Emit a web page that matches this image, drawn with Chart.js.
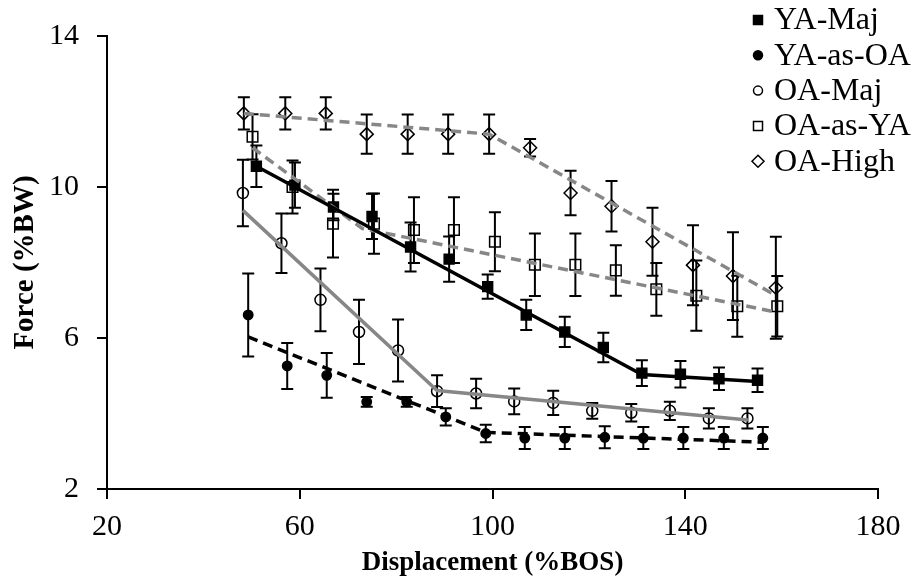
<!DOCTYPE html>
<html>
<head>
<meta charset="utf-8">
<script src="https://cdn.jsdelivr.net/npm/chart.js@4.4.1/dist/chart.umd.min.js"></script>
<style>
html, body { margin: 0; padding: 0; background: #fff; }
</style>
</head>
<body>
<canvas id="chart" width="917" height="582"></canvas>
<script>
// values (displacement %BOS, force %BW, error bar half-length)
const seriesNames = ["YA-Maj", "YA-as-OA", "OA-Maj", "OA-as-YA", "OA-High"]

const yaMajX = [51, 59, 67, 75, 83, 91, 99, 107, 115, 123, 131, 139, 147, 155]
const yaMajY = [10.55, 10.05, 9.47, 9.22, 8.41, 8.09, 7.36, 6.61, 6.16, 5.75, 5.07, 5.04, 4.92, 4.88]
const yaMajErr = [0.55, 0.6, 0.35, 0.6, 0.65, 0.6, 0.32, 0.4, 0.4, 0.39, 0.34, 0.35, 0.3, 0.31]

const yaAsOaX = [49.3, 57.4, 65.6, 73.9, 82.2, 90.3, 98.6, 106.7, 115, 123.3, 131.3, 139.6, 148, 156.1]
const yaAsOaY = [6.61, 5.26, 5.01, 4.31, 4.31, 3.91, 3.47, 3.35, 3.35, 3.37, 3.35, 3.35, 3.35, 3.35]
const yaAsOaErr = [1.1, 0.61, 0.59, 0.13, 0.13, 0.23, 0.23, 0.29, 0.29, 0.29, 0.29, 0.29, 0.29, 0.29]

const oaMajX = [48.2, 56.2, 64.3, 72.3, 80.4, 88.5, 96.6, 104.5, 112.6, 120.7, 128.8, 136.8, 144.9, 152.9]
const oaMajY = [9.84, 8.51, 7.01, 6.16, 5.67, 4.59, 4.53, 4.32, 4.28, 4.07, 4.02, 4.07, 3.87, 3.87]
const oaMajErr = [0.88, 0.79, 0.83, 0.85, 0.82, 0.42, 0.39, 0.34, 0.32, 0.21, 0.23, 0.24, 0.27, 0.27]

const oaAsYaX = [50.2, 58.5, 66.9, 75.4, 83.7, 92, 100.5, 108.8, 117.2, 125.6, 134, 142.3, 150.8, 159.1]
const oaAsYaY = [11.33, 10.0, 9.03, 9.03, 8.86, 8.86, 8.55, 7.94, 7.94, 7.79, 7.29, 7.12, 6.84, 6.84]
const oaAsYaErr = [0.6, 0.7, 0.9, 0.8, 0.87, 0.87, 0.78, 0.83, 0.83, 0.67, 0.7, 0.93, 0.81, 0.8]

const oaHighX = [48.4, 57, 65.4, 73.9, 82.4, 90.8, 99.3, 107.8, 116.2, 124.7, 133.2, 141.6, 149.9, 158.8]
const oaHighY = [11.95, 11.95, 11.95, 11.4, 11.4, 11.4, 11.4, 11.04, 9.84, 9.49, 8.55, 7.93, 7.64, 7.33]
const oaHighErr = [0.43, 0.43, 0.43, 0.52, 0.52, 0.52, 0.52, 0.23, 0.59, 0.67, 0.9, 1.06, 1.16, 1.35]

// piecewise fitted lines
const yaMajFitX = [51, 131, 155]
const yaMajFitY = [10.55, 5.03, 4.85]
const yaAsOaFitX = [49.3, 98.6, 156.1]
const yaAsOaFitY = [6.03, 3.5, 3.24]
const oaMajFitX = [48.2, 88.5, 153]
const oaMajFitY = [9.38, 4.61, 3.83]
const oaAsYaFitX = [50.2, 73, 159.1]
const oaAsYaFitY = [11.04, 8.9, 6.68]
const oaHighFitX = [48.4, 99.3, 158.9]
const oaHighFitY = [11.95, 11.4, 7.12]

const xTicks = [20, 60, 100, 140, 180]
const yTicks = [2, 6, 10, 14]

const GRAY = "#878787"
const FONT = "'Liberation Serif', 'Times New Roman', serif"

const pts = (xs, ys) => xs.map((x, i) => ({ x: x, y: ys[i] }))

function markerSet(label, xs, ys, errs, style, filled, radius) {
    return {
        label: label,
        data: pts(xs, ys),
        errors: errs,
        pointStyle: style,
        pointRadius: radius,
        pointHoverRadius: radius,
        pointBorderWidth: 1.5,
        pointBorderColor: "#000",
        pointBackgroundColor: filled ? "#000" : "rgba(0,0,0,0)",
        legendStyle: style,
        legendFilled: filled,
        showLine: false,
        order: 2
    }
}

function fitSet(xs, ys, color, dash) {
    return {
        label: "",
        data: pts(xs, ys),
        showLine: true,
        borderColor: color,
        borderWidth: 3.5,
        borderDash: dash,
        pointRadius: 0,
        fill: false,
        isFit: true,
        order: 1
    }
}

const errorBars = {
    id: "errorBars",
    beforeDatasetsDraw(chart) {
        const ctx = chart.ctx
        const xs = chart.scales.x, ys = chart.scales.y
        ctx.save()
        ctx.strokeStyle = "#000"
        ctx.lineWidth = 2
        chart.data.datasets.forEach(ds => {
            if (!ds.errors) return
            ds.data.forEach((p, i) => {
                const e = ds.errors[i]
                const px = xs.getPixelForValue(p.x)
                const top = ys.getPixelForValue(p.y + e)
                const bot = ys.getPixelForValue(p.y - e)
                ctx.beginPath()
                ctx.moveTo(px, top); ctx.lineTo(px, bot)
                ctx.moveTo(px - 6, top); ctx.lineTo(px + 6, top)
                ctx.moveTo(px - 6, bot); ctx.lineTo(px + 6, bot)
                ctx.stroke()
            })
        })
        ctx.restore()
    }
}

function drawLegendMarker(ctx, style, filled, x, y) {
    ctx.beginPath()
    if (style === "rect") {
        ctx.rect(x - 4.5, y - 4.5, 9, 9)
    } else if (style === "circle") {
        ctx.arc(x, y, 4.5, 0, Math.PI * 2)
    } else {
        ctx.moveTo(x, y - 6); ctx.lineTo(x + 6, y); ctx.lineTo(x, y + 6); ctx.lineTo(x - 6, y); ctx.closePath()
    }
    if (filled) { ctx.fillStyle = "#000"; ctx.fill() }
    ctx.lineWidth = 1.5
    ctx.strokeStyle = "#000"
    ctx.stroke()
}

const sideLegend = {
    id: "sideLegend",
    afterDraw(chart) {
        const ctx = chart.ctx
        ctx.save()
        ctx.font = "32px " + FONT
        ctx.textBaseline = "middle"
        let row = 0
        chart.data.datasets.forEach(ds => {
            if (ds.isFit) return
            const y = 20 + row * 35.3
            drawLegendMarker(ctx, ds.legendStyle, ds.legendFilled, 758, y)
            ctx.fillStyle = "#000"
            ctx.fillText(ds.label, 774, y + 1)
            row++
        })
        ctx.restore()
    }
}

new Chart(document.getElementById("chart").getContext("2d"), {
    type: "scatter",
    data: {
        datasets: [
            fitSet(yaMajFitX, yaMajFitY, "#000", []),
            fitSet(yaAsOaFitX, yaAsOaFitY, "#000", [10, 6]),
            fitSet(oaMajFitX, oaMajFitY, GRAY, []),
            fitSet(oaAsYaFitX, oaAsYaFitY, GRAY, [10, 6]),
            fitSet(oaHighFitX, oaHighFitY, GRAY, [10, 6]),
            markerSet(seriesNames[0], yaMajX, yaMajY, yaMajErr, "rect", true, 7),
            markerSet(seriesNames[1], yaAsOaX, yaAsOaY, yaAsOaErr, "circle", true, 4.7),
            markerSet(seriesNames[2], oaMajX, oaMajY, oaMajErr, "circle", false, 5.5),
            markerSet(seriesNames[3], oaAsYaX, oaAsYaY, oaAsYaErr, "rect", false, 7.5),
            markerSet(seriesNames[4], oaHighX, oaHighY, oaHighErr, "rectRot", false, 6.5)
        ]
    },
    options: {
        responsive: false,
        animation: false,
        devicePixelRatio: 1,
        layout: { padding: { top: 30, right: 39, left: 0, bottom: 0 } },
        plugins: {
            legend: { display: false },
            tooltip: { enabled: false }
        },
        scales: {
            x: {
                type: "linear",
                min: 20, max: 180,
                afterBuildTicks: s => { s.ticks = xTicks.map(v => ({ value: v })) },
                afterFit: s => { s.height = 93 },
                grid: { drawOnChartArea: false, drawTicks: true, tickLength: 10, color: "#000", lineWidth: 2 },
                border: { color: "#000", width: 2 },
                ticks: { color: "#000", font: { family: FONT, size: 30 }, padding: 10, maxRotation: 0 },
                title: { display: true, text: "Displacement (%BOS)", color: "#000", font: { family: FONT, size: 27, weight: "bold" }, padding: { top: 0, bottom: 3 } }
            },
            y: {
                type: "linear",
                min: 2, max: 14,
                afterBuildTicks: s => { s.ticks = yTicks.map(v => ({ value: v })) },
                afterFit: s => { s.width = 107 },
                grid: { drawOnChartArea: false, drawTicks: true, tickLength: 10, color: "#000", lineWidth: 2 },
                border: { color: "#000", width: 2 },
                ticks: { color: "#000", font: { family: FONT, size: 30 }, padding: 18 },
                title: { display: true, text: "Force (%BW)", color: "#000", font: { family: FONT, size: 29, weight: "bold" }, padding: { top: 8, bottom: 0 } }
            }
        }
    },
    plugins: [errorBars, sideLegend]
})
</script>
</body>
</html>
